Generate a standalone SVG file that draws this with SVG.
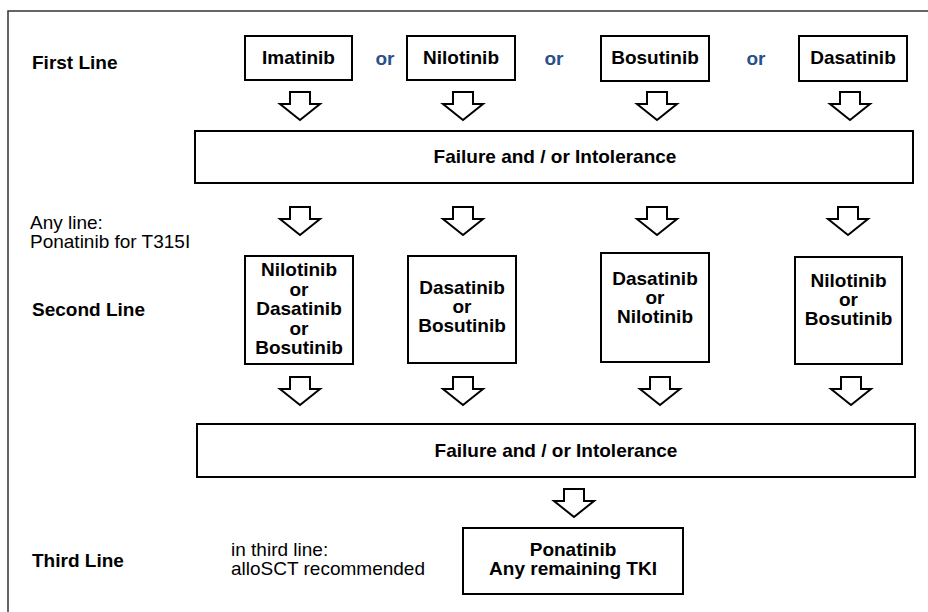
<svg xmlns="http://www.w3.org/2000/svg" width="928" height="612" viewBox="0 0 928 612">
<style>
  .box { fill: #ffffff; stroke: #000000; stroke-width: 2; }
  .arr { fill: #ffffff; stroke: #000000; stroke-width: 2; stroke-linejoin: miter; }
  .b { font-family: "Liberation Sans", Arial, sans-serif; font-weight: bold; font-size: 19px; fill: #000000; }
  .n { font-family: "Liberation Sans", Arial, sans-serif; font-size: 19px; fill: #000000; }
  .or { font-family: "Liberation Sans", Arial, sans-serif; font-weight: bold; font-size: 19px; fill: #2b4f8a; }
  .c { text-anchor: middle; }
</style>
<defs>
  <path id="down" d="M-10,0 H10 V12 H20 L0,28 L-20,12 H-10 Z"/>
</defs>
<rect x="0" y="0" width="928" height="612" fill="#ffffff"/>
<rect x="8" y="11" width="940" height="620" fill="none" stroke="#333333" stroke-width="1.5"/>

<g id="labels">
  <text class="b" x="32" y="69">First Line</text>
  <text class="n" x="30" y="229">Any line:</text>
  <text class="n" x="30" y="248">Ponatinib for T315I</text>
  <text class="b" x="32" y="316">Second Line</text>
  <text class="b" x="32" y="567">Third Line</text>
  <text class="n" x="231" y="556">in third line:</text>
  <text class="n" x="231" y="575">alloSCT recommended</text>
  <text class="or c" x="385" y="65">or</text>
  <text class="or c" x="554" y="65">or</text>
  <text class="or c" x="756" y="65">or</text>
</g>

<g id="imatinib">
  <rect class="box" x="245" y="36" width="107" height="44"/>
  <text class="b c" x="298.5" y="64">Imatinib</text>
</g>
<g id="nilotinib">
  <rect class="box" x="407" y="36" width="108" height="44"/>
  <text class="b c" x="461" y="64">Nilotinib</text>
</g>
<g id="bosutinib">
  <rect class="box" x="601" y="36" width="108" height="45"/>
  <text class="b c" x="655" y="64">Bosutinib</text>
</g>
<g id="dasatinib">
  <rect class="box" x="799" y="36" width="108" height="45"/>
  <text class="b c" x="853" y="64">Dasatinib</text>
</g>

<g id="failure1">
  <rect class="box" x="195" y="131" width="718" height="52"/>
  <text class="b c" x="555" y="163">Failure and / or Intolerance</text>
</g>

<g id="second1">
  <rect class="box" x="245" y="256" width="108" height="108"/>
  <text class="b c" x="299" y="276">Nilotinib</text>
  <text class="b c" x="299" y="296">or</text>
  <text class="b c" x="299" y="315">Dasatinib</text>
  <text class="b c" x="299" y="335">or</text>
  <text class="b c" x="299" y="354">Bosutinib</text>
</g>
<g id="second2">
  <rect class="box" x="408" y="256" width="108" height="107"/>
  <text class="b c" x="462" y="294">Dasatinib</text>
  <text class="b c" x="462" y="313">or</text>
  <text class="b c" x="462" y="332">Bosutinib</text>
</g>
<g id="second3">
  <rect class="box" x="601" y="253" width="108" height="109"/>
  <text class="b c" x="655" y="285">Dasatinib</text>
  <text class="b c" x="655" y="304">or</text>
  <text class="b c" x="655" y="323">Nilotinib</text>
</g>
<g id="second4">
  <rect class="box" x="795" y="257" width="107" height="107"/>
  <text class="b c" x="848.5" y="287">Nilotinib</text>
  <text class="b c" x="848.5" y="306">or</text>
  <text class="b c" x="848.5" y="325">Bosutinib</text>
</g>

<g id="failure2">
  <rect class="box" x="197" y="424" width="718" height="53"/>
  <text class="b c" x="556" y="457">Failure and / or Intolerance</text>
</g>

<g id="third">
  <rect class="box" x="463" y="528" width="220" height="66"/>
  <text class="b c" x="573" y="556">Ponatinib</text>
  <text class="b c" x="573" y="575">Any remaining TKI</text>
</g>

<g id="connectors">
  <use href="#down" class="arr" x="300" y="92"/>
  <use href="#down" class="arr" x="463" y="92"/>
  <use href="#down" class="arr" x="657" y="92"/>
  <use href="#down" class="arr" x="850" y="92"/>
  <use href="#down" class="arr" x="300" y="207"/>
  <use href="#down" class="arr" x="463" y="207"/>
  <use href="#down" class="arr" x="657" y="207"/>
  <use href="#down" class="arr" x="848" y="207"/>
  <use href="#down" class="arr" x="300" y="377"/>
  <use href="#down" class="arr" x="463" y="377"/>
  <use href="#down" class="arr" x="660" y="377"/>
  <use href="#down" class="arr" x="851" y="377"/>
  <use href="#down" class="arr" x="574" y="489"/>
</g>
</svg>
